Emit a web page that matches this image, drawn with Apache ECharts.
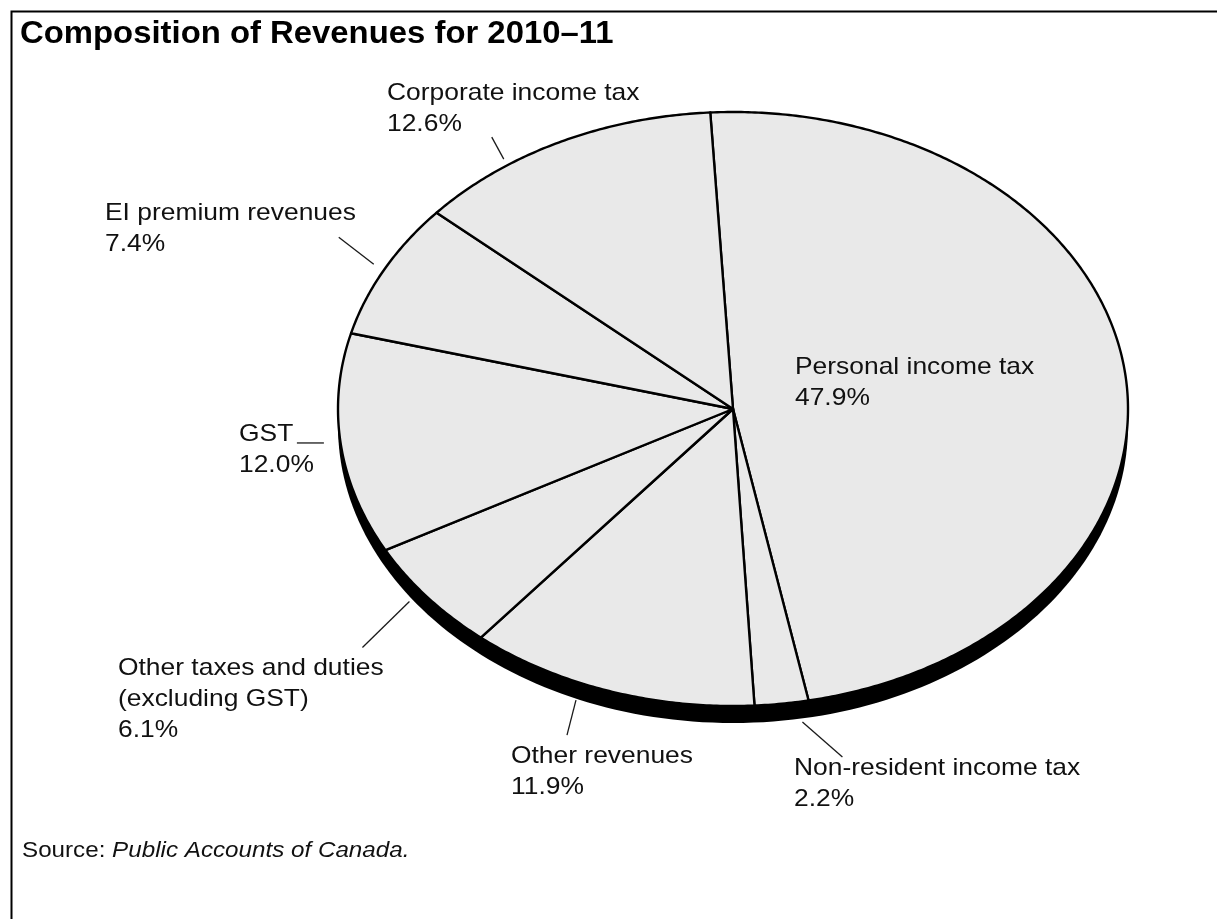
<!DOCTYPE html>
<html>
<head>
<meta charset="utf-8">
<title>Composition of Revenues for 2010–11</title>
<script src="https://cdn.jsdelivr.net/npm/echarts/dist/echarts.min.js"></script>
<style>
  html, body { margin: 0; padding: 0; background: #fff; }
  #chart { width: 1217px; height: 919px; }
</style>
</head>
<body>
<div id="chart"></div>
<script>
// Revenue categories, clockwise from the top of the pie
const categories = [
  'Personal income tax',
  'Non-resident income tax',
  'Other revenues',
  'Other taxes and duties\n(excluding GST)',
  'GST',
  'EI premium revenues',
  'Corporate income tax'
];
// Share of total revenues, per cent
const shares = [47.9, 2.2, 11.9, 6.1, 12.0, 7.4, 12.6];

const chartTitle = 'Composition of Revenues for 2010–11';
const sourcePrefix = 'Source: ';
const sourceName = 'Public Accounts of Canada.';

// Tilted-pie geometry (pixels)
const pie = { cx: 733, cy: 409, rx: 395, ry: 297, depth: 17, startDeg: -3.3 };

// Label placement: left edge and first baseline of each text block, plus the
// leader line (angle on the rim, radius factor, whether it sits on the rim's
// side band, and the leader's offset outward)
const labelPlacement = [
  { left: 795, base: 376 },
  { left: 794, base: 777, leader: { deg: 170.0, r: 1.012, side: true, dx: 40, dy: 35 } },
  { left: 511, base: 765, leader: { deg: -156.7, r: 1.005, side: true, dx: -9, dy: 35 } },
  { left: 118, base: 677, leader: { deg: -125.8, r: 1.01, side: true, dx: -47, dy: 46 } },
  { left: 239, base: 443, leader: { deg: -96.3, r: 1.042, side: false, dx: -27, dy: 0 } },
  { left: 105, base: 222, leader: { deg: -61.8, r: 1.032, side: false, dx: -35, dy: -27 } },
  { left: 387, base: 102, leader: { deg: -34.6, r: 1.022, side: false, dx: -12, dy: -22 } }
];

const FONT = '"Liberation Sans", Arial, Helvetica, sans-serif';
const LABEL_SIZE = 24, LABEL_LH = 31, STRETCH = 1.1;

const total = shares.reduce((a, b) => a + b, 0);
const degPerUnit = 360 / total;
const cumulative = [];
shares.reduce((acc, v, i) => { cumulative[i] = acc; return acc + v; }, 0);

function rimPoint(deg, r, dyShift) {
  const a = deg * Math.PI / 180;
  return [pie.cx + r * pie.rx * Math.sin(a), pie.cy - r * pie.ry * Math.cos(a) + (dyShift || 0)];
}

function renderSlice(params, api) {
  const i = params.dataIndex;
  const value = api.value(0);
  const a0 = pie.startDeg + cumulative[i] * degPerUnit;
  const a1 = a0 + value * degPerUnit;
  const steps = Math.max(6, Math.ceil((a1 - a0) / 0.5));
  const pts = [[pie.cx, pie.cy]];
  for (let j = 0; j <= steps; j++) pts.push(rimPoint(a0 + (a1 - a0) * j / steps, 1));

  const children = [];
  if (i === 0) {
    // dark side band of the tilted disc
    children.push({
      type: 'ellipse',
      shape: { cx: pie.cx, cy: pie.cy + pie.depth, rx: pie.rx, ry: pie.ry },
      style: { fill: '#000' }
    });
  }
  children.push({
    type: 'polygon',
    shape: { points: pts },
    style: { fill: '#e9e9e9', stroke: '#000', lineWidth: 2.4, lineJoin: 'round' }
  });

  const place = labelPlacement[i];
  if (place.leader) {
    const L = place.leader;
    const p0 = rimPoint(L.deg, L.r, L.side ? pie.depth : 0);
    children.push({
      type: 'line',
      shape: { x1: p0[0], y1: p0[1], x2: p0[0] + L.dx, y2: p0[1] + L.dy },
      style: { stroke: '#1a1a1a', lineWidth: 1.3 }
    });
  }
  children.push({
    type: 'text',
    x: place.left,
    y: place.base - 23.8,
    scaleX: STRETCH,
    style: {
      x: 0, y: 0,
      text: categories[i] + '\n' + value.toFixed(1) + '%',
      fontSize: LABEL_SIZE,
      fontFamily: FONT,
      lineHeight: LABEL_LH,
      fill: '#111',
      align: 'left',
      verticalAlign: 'top'
    }
  });
  return { type: 'group', children };
}

const chart = echarts.init(document.getElementById('chart'), null, { renderer: 'canvas' });
chart.setOption({
  animation: false,
  backgroundColor: '#fff',
  graphic: [
    {
      type: 'rect', left: 9, top: 9,
      shape: { width: 1400, height: 1100 },
      style: { fill: 'none', stroke: '#000', lineWidth: 2 }
    },
    {
      type: 'text', x: 20, y: 19, scaleX: 1.06,
      style: {
        text: chartTitle, fontSize: 31, fontWeight: 'bold', fontFamily: FONT,
        fill: '#000', lineHeight: 31, verticalAlign: 'top'
      }
    },
    {
      type: 'text', x: 22, y: 837, scaleX: STRETCH,
      style: {
        text: '{n|' + sourcePrefix + '}{i|' + sourceName + '}',
        fill: '#111', verticalAlign: 'top',
        rich: {
          n: { fontSize: 22, fontFamily: FONT, fill: '#111', lineHeight: 28 },
          i: { fontSize: 22, fontFamily: FONT, fontStyle: 'italic', fill: '#111', lineHeight: 28 }
        }
      }
    }
  ],
  series: [{
    type: 'custom',
    coordinateSystem: 'none',
    renderItem: renderSlice,
    data: shares.map(v => [v])
  }]
});
</script>
</body>
</html>
